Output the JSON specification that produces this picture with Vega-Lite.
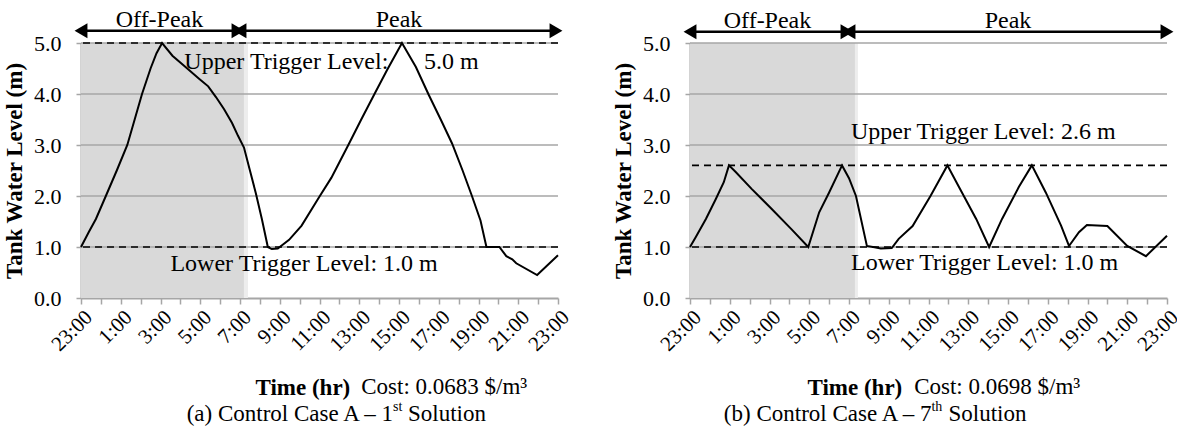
{
  "$schema": "https://vega.github.io/schema/vega-lite/v6.json",
  "padding": {"left": 3, "top": 8, "right": 0, "bottom": 0},
  "spacing": 39,
  "data": {"values": [{}]},
  "config": {
    "view": {"stroke": null},
    "font": "Liberation Serif",
    "text": {"font": "Liberation Serif", "fontSize": 24, "color": "black"},
    "axis": {
      "labelFont": "Liberation Serif", "titleFont": "Liberation Serif",
      "labelColor": "black", "titleColor": "black",
      "labelFontSize": 22, "titleFontSize": 23, "titleFontWeight": "bold",
      "domainColor": "#a6a6a6", "domainWidth": 2, "labelOverlap": false,
      "tickColor": "#a6a6a6", "tickWidth": 1.5, "tickSize": 5, "grid": false
    }
  },
  "datasets": {
    "a": [
      {"hr":0,"level":1.0},{"hr":0.4,"level":1.3},{"hr":0.75,"level":1.55},{"hr":1.25,"level":2.0},
      {"hr":1.8,"level":2.5},{"hr":2.33,"level":3.0},{"hr":2.7,"level":3.5},{"hr":3.07,"level":4.0},
      {"hr":3.5,"level":4.5},{"hr":3.8,"level":4.8},{"hr":4.08,"level":5.0},{"hr":4.6,"level":4.75},
      {"hr":5.2,"level":4.55},{"hr":5.94,"level":4.3},{"hr":6.4,"level":4.15},{"hr":6.79,"level":3.94},
      {"hr":7.2,"level":3.7},{"hr":7.6,"level":3.43},{"hr":7.9,"level":3.18},{"hr":8.2,"level":2.95},
      {"hr":8.5,"level":2.5},{"hr":8.8,"level":2.05},{"hr":9.1,"level":1.55},{"hr":9.4,"level":1.0},
      {"hr":9.6,"level":0.96},{"hr":9.9,"level":0.97},{"hr":10.47,"level":1.14},{"hr":11.1,"level":1.42},
      {"hr":11.97,"level":1.97},{"hr":12.6,"level":2.36},{"hr":13.45,"level":3.0},{"hr":14.1,"level":3.5},
      {"hr":14.74,"level":3.98},{"hr":15.4,"level":4.47},{"hr":16.15,"level":5.0},{"hr":16.85,"level":4.53},
      {"hr":17.5,"level":3.98},{"hr":18.1,"level":3.5},{"hr":18.67,"level":3.03},{"hr":19.2,"level":2.5},
      {"hr":19.67,"level":2.0},{"hr":20.1,"level":1.52},{"hr":20.4,"level":1.0},{"hr":21.05,"level":1.0},
      {"hr":21.4,"level":0.82},{"hr":21.7,"level":0.76},{"hr":21.9,"level":0.68},{"hr":22.95,"level":0.45},
      {"hr":24,"level":0.84}
    ],
    "b": [
      {"hr":0,"level":1.0},{"hr":0.3,"level":1.2},{"hr":0.8,"level":1.55},{"hr":1.3,"level":1.94},
      {"hr":1.7,"level":2.27},{"hr":1.96,"level":2.6},{"hr":2.3,"level":2.47},{"hr":3.1,"level":2.14},
      {"hr":4.1,"level":1.75},{"hr":5.1,"level":1.35},{"hr":5.95,"level":1.0},{"hr":6.5,"level":1.68},
      {"hr":7.0,"level":2.07},{"hr":7.65,"level":2.6},{"hr":8.0,"level":2.35},{"hr":8.35,"level":2.0},
      {"hr":8.9,"level":1.02},{"hr":9.35,"level":0.99},{"hr":9.6,"level":0.97},{"hr":10.15,"level":0.98},
      {"hr":10.5,"level":1.16},{"hr":11.2,"level":1.41},{"hr":12.1,"level":2.0},{"hr":12.95,"level":2.6},
      {"hr":13.5,"level":2.2},{"hr":14.4,"level":1.55},{"hr":15.05,"level":1.0},{"hr":15.7,"level":1.55},
      {"hr":16.55,"level":2.18},{"hr":17.2,"level":2.6},{"hr":17.9,"level":2.07},{"hr":18.67,"level":1.42},
      {"hr":19.07,"level":1.02},{"hr":19.57,"level":1.29},{"hr":19.97,"level":1.43},{"hr":21.0,"level":1.41},
      {"hr":22.0,"level":1.02},{"hr":22.94,"level":0.82},{"hr":24,"level":1.22}
    ],
    "grid": [{"g":1},{"g":2},{"g":3},{"g":4},{"g":5}]
  },
  "hconcat": [
    {
      "width": 477, "height": 255,
      "layer": [
        {"mark": {"type": "rect", "color": "#d9d9d9"},
         "encoding": {
           "x": {"datum": 0, "type": "quantitative", "scale": {"domain": [0, 24], "nice": false},
                 "axis": {"values": [0,1,2,3,4,5,6,7,8,9,10,11,12,13,14,15,16,17,18,19,20,21,22,23,24], "tickCount": 30,
                          "labelExpr": "datum.value % 2 == 0 ? ((datum.value + 23) % 24) + ':00' : ''",
                          "labelAngle": -45, "labelFontSize": 21, "labelOverlap": false, "labelFlush": false, "labelBound": false,
                          "title": "Time (hr)", "titleAnchor": "start", "titleAlign": "left", "titleX": 174, "titleY": 89,
                          "titleBaseline": "middle", "tickSize": 6}},
           "x2": {"datum": 8.2},
           "y": {"datum": 0, "type": "quantitative", "scale": {"domain": [0, 5], "nice": false},
                 "axis": {"values": [0,1,2,3,4,5], "tickCount": 10, "format": ".1f", "title": "Tank Water Level (m)",
                          "labelPadding": 15, "titlePadding": 7}},
           "y2": {"datum": 5}}},
        {"mark": {"type": "rect", "color": "#ededed"},
         "encoding": {"x": {"datum": 8.2}, "x2": {"datum": 8.4}, "y": {"datum": 0}, "y2": {"datum": 5}}},
        {"data": {"name": "grid"}, "mark": {"type": "rule", "color": "#a6a6a6", "strokeWidth": 1.5},
         "encoding": {"y": {"field": "g", "type": "quantitative"}}},
        {"mark": {"type": "rule", "color": "black", "strokeWidth": 1.6, "strokeDash": [7, 5]},
         "encoding": {"y": {"datum": 5.0}}},
        {"mark": {"type": "rule", "color": "black", "strokeWidth": 1.6, "strokeDash": [7, 5]},
         "encoding": {"y": {"datum": 1.0}}},
        {"data": {"name": "a"}, "mark": {"type": "line", "color": "black", "strokeWidth": 2},
         "encoding": {"x": {"field": "hr", "type": "quantitative"}, "y": {"field": "level", "type": "quantitative"}}},
        {"mark": {"type": "text", "align": "left", "baseline": "middle"},
         "encoding": {"x": {"datum": 5.2}, "y": {"datum": 4.63}, "text": {"value": "Upper Trigger Level:"}}},
        {"mark": {"type": "text", "align": "left", "baseline": "middle"},
         "encoding": {"x": {"datum": 17.26}, "y": {"datum": 4.63}, "text": {"value": "5.0 m"}}},
        {"mark": {"type": "text", "align": "left", "baseline": "middle"},
         "encoding": {"x": {"datum": 4.5}, "y": {"datum": 0.67}, "text": {"value": "Lower Trigger Level: 1.0 m"}}},
        {"mark": {"type": "text", "align": "center", "baseline": "middle"},
         "encoding": {"x": {"datum": 3.95}, "y": {"datum": 5.45}, "text": {"value": "Off-Peak"}}},
        {"mark": {"type": "text", "align": "center", "baseline": "middle"},
         "encoding": {"x": {"datum": 16}, "y": {"datum": 5.45}, "text": {"value": "Peak"}}},
        {"mark": {"type": "rule", "color": "black", "strokeWidth": 2.5},
         "encoding": {"x": {"datum": 0}, "x2": {"datum": 7.8}, "y": {"datum": 5.24}}},
        {"mark": {"type": "rule", "color": "black", "strokeWidth": 2.5},
         "encoding": {"x": {"datum": 8.2}, "x2": {"datum": 23.8}, "y": {"datum": 5.24}}},
        {"mark": {"type": "point", "shape": "triangle-left", "filled": true, "color": "black", "opacity": 1, "size": 220, "dx": 7},
         "encoding": {"x": {"datum": 0}, "y": {"datum": 5.24}}},
        {"mark": {"type": "point", "shape": "triangle-right", "filled": true, "color": "black", "opacity": 1, "size": 220, "dx": -7},
         "encoding": {"x": {"datum": 7.9}, "y": {"datum": 5.24}}},
        {"mark": {"type": "point", "shape": "triangle-left", "filled": true, "color": "black", "opacity": 1, "size": 220, "dx": 7},
         "encoding": {"x": {"datum": 8.0}, "y": {"datum": 5.24}}},
        {"mark": {"type": "point", "shape": "triangle-right", "filled": true, "color": "black", "opacity": 1, "size": 220, "dx": -7},
         "encoding": {"x": {"datum": 23.9}, "y": {"datum": 5.24}}},
        {"mark": {"type": "text", "align": "left", "baseline": "middle", "fontSize": 23},
         "encoding": {"x": {"datum": 14.1}, "y": {"datum": -1.745}, "text": {"value": "Cost: 0.0683 $/m³"}}},
        {"mark": {"type": "text", "align": "right", "baseline": "middle", "fontSize": 23},
         "encoding": {"x": {"datum": 15.7}, "y": {"datum": -2.27}, "text": {"value": "(a) Control Case A – 1"}}},
        {"mark": {"type": "text", "align": "left", "baseline": "middle", "fontSize": 14, "dy": -7},
         "encoding": {"x": {"datum": 15.7}, "y": {"datum": -2.27}, "text": {"value": "st"}}},
        {"mark": {"type": "text", "align": "left", "baseline": "middle", "fontSize": 23, "dx": 15},
         "encoding": {"x": {"datum": 15.7}, "y": {"datum": -2.27}, "text": {"value": "Solution"}}}
      ]
    },
    {
      "width": 477, "height": 255,
      "layer": [
        {"mark": {"type": "rect", "color": "#d9d9d9"},
         "encoding": {
           "x": {"datum": 0, "type": "quantitative", "scale": {"domain": [0, 24], "nice": false},
                 "axis": {"values": [0,1,2,3,4,5,6,7,8,9,10,11,12,13,14,15,16,17,18,19,20,21,22,23,24], "tickCount": 30,
                          "labelExpr": "datum.value % 2 == 0 ? ((datum.value + 23) % 24) + ':00' : ''",
                          "labelAngle": -45, "labelFontSize": 21, "labelOverlap": false, "labelFlush": false, "labelBound": false,
                          "title": "Time (hr)", "titleAnchor": "start", "titleAlign": "left", "titleX": 117, "titleY": 89,
                          "titleBaseline": "middle", "tickSize": 6}},
           "x2": {"datum": 8.3},
           "y": {"datum": 0, "type": "quantitative", "scale": {"domain": [0, 5], "nice": false},
                 "axis": {"values": [0,1,2,3,4,5], "tickCount": 10, "format": ".1f", "title": "Tank Water Level (m)",
                          "labelPadding": 15, "titlePadding": 7}},
           "y2": {"datum": 5}}},
        {"mark": {"type": "rect", "color": "#ededed"},
         "encoding": {"x": {"datum": 8.3}, "x2": {"datum": 8.45}, "y": {"datum": 0}, "y2": {"datum": 5}}},
        {"data": {"name": "grid"}, "mark": {"type": "rule", "color": "#a6a6a6", "strokeWidth": 1.5},
         "encoding": {"y": {"field": "g", "type": "quantitative"}}},
        {"mark": {"type": "rule", "color": "black", "strokeWidth": 1.6, "strokeDash": [7, 5]},
         "encoding": {"y": {"datum": 2.6}}},
        {"mark": {"type": "rule", "color": "black", "strokeWidth": 1.6, "strokeDash": [7, 5]},
         "encoding": {"y": {"datum": 1.0}}},
        {"data": {"name": "b"}, "mark": {"type": "line", "color": "black", "strokeWidth": 2},
         "encoding": {"x": {"field": "hr", "type": "quantitative"}, "y": {"field": "level", "type": "quantitative"}}},
        {"mark": {"type": "text", "align": "left", "baseline": "middle"},
         "encoding": {"x": {"datum": 8.1}, "y": {"datum": 3.25}, "text": {"value": "Upper Trigger Level: 2.6 m"}}},
        {"mark": {"type": "text", "align": "left", "baseline": "middle"},
         "encoding": {"x": {"datum": 8.1}, "y": {"datum": 0.69}, "text": {"value": "Lower Trigger Level: 1.0 m"}}},
        {"mark": {"type": "text", "align": "center", "baseline": "middle"},
         "encoding": {"x": {"datum": 3.9}, "y": {"datum": 5.43}, "text": {"value": "Off-Peak"}}},
        {"mark": {"type": "text", "align": "center", "baseline": "middle"},
         "encoding": {"x": {"datum": 16}, "y": {"datum": 5.43}, "text": {"value": "Peak"}}},
        {"mark": {"type": "rule", "color": "black", "strokeWidth": 2.5},
         "encoding": {"x": {"datum": 0}, "x2": {"datum": 7.8}, "y": {"datum": 5.22}}},
        {"mark": {"type": "rule", "color": "black", "strokeWidth": 2.5},
         "encoding": {"x": {"datum": 8.2}, "x2": {"datum": 23.8}, "y": {"datum": 5.22}}},
        {"mark": {"type": "point", "shape": "triangle-left", "filled": true, "color": "black", "opacity": 1, "size": 220, "dx": 7},
         "encoding": {"x": {"datum": 0}, "y": {"datum": 5.22}}},
        {"mark": {"type": "point", "shape": "triangle-right", "filled": true, "color": "black", "opacity": 1, "size": 220, "dx": -7},
         "encoding": {"x": {"datum": 7.9}, "y": {"datum": 5.22}}},
        {"mark": {"type": "point", "shape": "triangle-left", "filled": true, "color": "black", "opacity": 1, "size": 220, "dx": 7},
         "encoding": {"x": {"datum": 8.0}, "y": {"datum": 5.22}}},
        {"mark": {"type": "point", "shape": "triangle-right", "filled": true, "color": "black", "opacity": 1, "size": 220, "dx": -7},
         "encoding": {"x": {"datum": 24}, "y": {"datum": 5.22}}},
        {"mark": {"type": "text", "align": "left", "baseline": "middle", "fontSize": 23},
         "encoding": {"x": {"datum": 11.28}, "y": {"datum": -1.745}, "text": {"value": "Cost: 0.0698 $/m³"}}},
        {"mark": {"type": "text", "align": "right", "baseline": "middle", "fontSize": 23},
         "encoding": {"x": {"datum": 12.15}, "y": {"datum": -2.27}, "text": {"value": "(b) Control Case A – 7"}}},
        {"mark": {"type": "text", "align": "left", "baseline": "middle", "fontSize": 14, "dy": -7},
         "encoding": {"x": {"datum": 12.15}, "y": {"datum": -2.27}, "text": {"value": "th"}}},
        {"mark": {"type": "text", "align": "left", "baseline": "middle", "fontSize": 23, "dx": 17},
         "encoding": {"x": {"datum": 12.15}, "y": {"datum": -2.27}, "text": {"value": "Solution"}}}
      ]
    }
  ]
}
